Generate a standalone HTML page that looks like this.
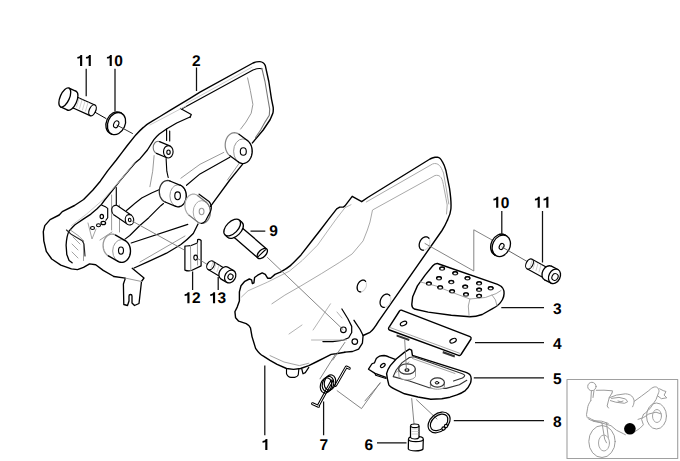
<!DOCTYPE html>
<html><head><meta charset="utf-8">
<style>
html,body{margin:0;padding:0;background:#fff;width:680px;height:461px;overflow:hidden}
svg{display:block}
.lb{text-rendering:geometricPrecision;font-family:"Liberation Sans",sans-serif;font-weight:bold;font-size:15.5px;fill:#000}
</style></head><body>
<svg width="680" height="461" viewBox="0 0 680 461">
<g fill="none" stroke-linejoin="round" stroke-linecap="round">
<path stroke="#000" stroke-width="1.41" d="M113.9 276.5 L103.2 270.4 L95.7 264.8 L89.6 263.9 L83.5 267.4 L77.5 269.6 L71.4 268.9 L60.8 265.1 L51.7 259 L46.3 251.4 L43.8 240.8 L43.3 231.7 L44.8 225.6 L50.1 219.6 L59.2 215 L62.3 211.6 L74.5 205.5 L83.6 199.5 L92.7 190.3 L100.3 181.2 L107.8 170.6 L116.3 160 L121.7 152.8 L127.1 145.8 L135.8 134.9 C138.5 132 141 129.5 143.4 127.4 C146 125 148.5 123.3 151 121.9 L160 116.5 L170 110.4 L180 104.4 L190 98.4 L200 92.1 L253 63 C255.5 61.8 258 61.5 260 61.6 C262.5 61.8 264.3 63.5 265.3 65.6 L268.8 81.5 L271.5 99.1 L273.2 107.4 C273.4 110 273.2 112 272.8 113.4 L270.2 119.5 L263.2 130 L252.4 142.9"/>
<path stroke="#000" stroke-width="1.14" d="M181.5 109 L253 70.1 C256 68.7 259 68 261.8 68.8"/>
<path stroke="#777" stroke-width="1.1" d="M261.8 68.2 L265 81.5 L268 99.5 L269.7 109.1 L269.3 115.2 L265 122.1 L260.6 130 L255.5 137.5"/>
<path stroke="#000" stroke-width="1.23" d="M180.5 108.5 L191.3 114.5 L190 117.5"/>
<path stroke="#000" stroke-width="1.32" d="M190 117 L176.7 123 L166.9 128.8 L159.3 134 C157 136 155.3 137.8 153.9 139.6 L147.4 150 L140.1 158.7 L135 163 L126 173.7 L119.7 181.2 L112.7 190 L104.7 200 L101.5 204.4 L97.1 208.8 L90.9 214.1 L82.9 219.4 L75 224.7 C72.5 227 70.5 229.5 69.1 231 C67.5 234 66.5 238 66.1 245.3 L66.8 254.5 L69.1 260.5 L72.1 262.8"/>
<path stroke="#9a9a9a" stroke-width="1.0" d="M247.6 77.9 L250.3 90.3 L252.9 104.4 L251.2 113.2 L245.9 122.1 L240.6 129.1"/>
<path stroke="#c4c4c4" stroke-width="0.9" d="M134.7 162.6 L118 183 L103.8 199 L100.6 201.8 L86.5 214.1 L71.5 225.6 M150 125 L186 106 M186 103.6 L252 67.2"/>
<path stroke="#000" stroke-width="1.32" d="M245.3 160.8 L229.8 180 L210.5 206.4 M198 224 L193.3 233.5 C189 238 185 241.5 180.6 244.7 L166.5 253.2 L148.2 261.7 L134.1 268"/>
<path stroke="#9a9a9a" stroke-width="1.0" d="M239.3 163.1 L227.4 180"/>
<path stroke="#000" stroke-width="1.14" d="M229.8 157.2 L200 173.9 L186.5 185.3 M166.6 129 V140.5 M169.7 131 V141 M116.3 187.6 V205.8 M166.1 158.5 L166.8 171.2 L168.2 177.5 M126.5 210.5 C131 207 136 202 141.7 198 L152.1 192.8 L159 189.8 M163.5 203.5 L160.8 205.7 L148.8 217.7 L139.3 226 L129.8 235.5 L125 239.1 M131.2 243 L187.8 224.4"/>
<path stroke="#9a9a9a" stroke-width="1.0" d="M223.8 152.4 L200 164.3 L180.9 178.2 M154.1 155.6 L152.7 171.2 L149.9 186.7 M111.6 195 V230 M119.5 205 V232 M83.5 240.8 V260.5 M70.6 230.2 L79 236.2 L83.5 240.8 M140 262 L185 236 M100 240 L112 232"/>
<path stroke="#000" stroke-width="1.32" d="M113.9 276.5 L125.4 278.1 L123.4 284 L123.8 304.5 L127.5 305.5 L129 301 L129 296 C129 294 132 294 132 296 L132 303 L134.5 305.5 L139 303.5 L141.5 281.5 L144 278 L132.2 268.3"/>
<path stroke="#9a9a9a" stroke-width="1.0" d="M125.4 278.1 L141.5 281.5"/>
<ellipse cx="234.5" cy="145" rx="9.3" ry="12.3" transform="rotate(0 234.5 145)" fill="#fff" stroke="none"/>
<path d="M238.4 161.9 L230 155.7 L239 134.3 L247.4 140.5 Z" fill="#fff" stroke="none"/>
<ellipse cx="242.9" cy="151.2" rx="9.3" ry="12.3" transform="rotate(0 242.9 151.2)" fill="#fff" stroke="#999" stroke-width="1.0"/>
<path d="M229.97 155.74 L228.95 154.87 L228.02 153.82 L227.21 152.63 L226.51 151.30 L225.96 149.87 L225.55 148.36 L225.30 146.78 L225.20 145.18 L225.26 143.57 L225.48 141.99 L225.86 140.46 L226.38 139.01 L227.04 137.66 L227.83 136.43 L228.73 135.35 L229.73 134.44 L230.82 133.71 L231.96 133.17 L233.15 132.83 L234.36 132.70 L235.58 132.78 L236.78 133.07 L237.93 133.57 L239.03 134.26" fill="none" stroke="#888" stroke-width="1.23"/>
<path d="M238.4 161.9 L230 155.7 M239 134.3 L247.4 140.5" fill="none" stroke="#000" stroke-width="1.23"/>
<path d="M247.43 140.46 L248.45 141.33 L249.38 142.38 L250.19 143.57 L250.89 144.90 L251.44 146.33 L251.85 147.84 L252.10 149.42 L252.20 151.02 L252.14 152.63 L251.92 154.21 L251.54 155.74 L251.02 157.19 L250.36 158.54 L249.57 159.77 L248.67 160.85 L247.67 161.76 L246.58 162.49 L245.44 163.03 L244.25 163.37 L243.04 163.50 L241.82 163.42 L240.62 163.13 L239.47 162.63 L238.37 161.94" fill="none" stroke="#000" stroke-width="1.23"/>
<ellipse cx="243.3" cy="151.5" rx="3" ry="3.8" transform="rotate(0 243.3 151.5)" fill="none" stroke="#000" stroke-width="1.14"/>
<ellipse cx="158" cy="147.5" rx="4.8" ry="6.2" transform="rotate(0 158 147.5)" fill="#fff" stroke="#777" stroke-width="1.14"/>
<path d="M166.8 157.7 L156.5 153.4 L159.5 141.6 L169.8 145.9 Z" fill="#fff" stroke="none"/>
<path d="M166.8 157.7 L156.5 153.4 M159.5 141.6 L169.8 145.9" fill="none" stroke="#000" stroke-width="1.14"/>
<ellipse cx="168.3" cy="151.8" rx="4.8" ry="6.2" transform="rotate(0 168.3 151.8)" fill="#fff" stroke="#000" stroke-width="1.14"/>
<ellipse cx="168.5" cy="152.2" rx="1.7" ry="2.2" transform="rotate(0 168.5 152.2)" fill="none" stroke="#000" stroke-width="1.1"/>
<ellipse cx="167.5" cy="191.5" rx="8.2" ry="11" transform="rotate(0 167.5 191.5)" fill="#fff" stroke="none"/>
<path d="M175.7 206.3 L165.1 202 L169.9 181 L180.5 185.3 Z" fill="#fff" stroke="none"/>
<ellipse cx="178.1" cy="195.8" rx="8.2" ry="11" transform="rotate(0 178.1 195.8)" fill="#fff" stroke="#999" stroke-width="1.0"/>
<path d="M165.13 202.03 L164.12 201.52 L163.18 200.85 L162.30 200.01 L161.52 199.03 L160.84 197.91 L160.27 196.69 L159.83 195.38 L159.52 194.01 L159.34 192.59 L159.30 191.15 L159.41 189.72 L159.65 188.32 L160.03 186.97 L160.53 185.70 L161.16 184.53 L161.89 183.48 L162.72 182.56 L163.63 181.80 L164.60 181.21 L165.63 180.79 L166.69 180.55 L167.76 180.51 L168.83 180.65 L169.87 180.97" fill="none" stroke="#333" stroke-width="1.32"/>
<path d="M175.7 206.3 L165.1 202 M169.9 181 L180.5 185.3" fill="none" stroke="#000" stroke-width="1.32"/>
<path d="M180.47 185.27 L181.48 185.78 L182.42 186.45 L183.30 187.29 L184.08 188.27 L184.76 189.39 L185.33 190.61 L185.77 191.92 L186.08 193.29 L186.26 194.71 L186.30 196.15 L186.19 197.58 L185.95 198.98 L185.57 200.33 L185.07 201.60 L184.44 202.77 L183.71 203.82 L182.88 204.74 L181.97 205.50 L181.00 206.09 L179.97 206.51 L178.91 206.75 L177.84 206.79 L176.77 206.65 L175.73 206.33" fill="none" stroke="#000" stroke-width="1.32"/>
<ellipse cx="177.6" cy="195.8" rx="2.8" ry="3.9" transform="rotate(0 177.6 195.8)" fill="none" stroke="#000" stroke-width="1.14"/>
<ellipse cx="193.5" cy="205.5" rx="8.6" ry="11.4" transform="rotate(0 193.5 205.5)" fill="#fff" stroke="none"/>
<path d="M197.4 221.8 L189.1 215.3 L197.9 195.7 L206.2 202.2 Z" fill="#fff" stroke="none"/>
<ellipse cx="201.8" cy="212" rx="8.6" ry="11.4" transform="rotate(0 201.8 212)" fill="#fff" stroke="#aaa" stroke-width="1.0"/>
<path d="M189.13 215.32 L188.20 214.47 L187.36 213.48 L186.63 212.35 L186.01 211.10 L185.52 209.76 L185.17 208.34 L184.96 206.87 L184.90 205.39 L184.99 203.90 L185.22 202.44 L185.59 201.03 L186.10 199.70 L186.73 198.47 L187.48 197.36 L188.33 196.39 L189.27 195.57 L190.29 194.92 L191.36 194.46 L192.46 194.18 L193.59 194.10 L194.71 194.21 L195.81 194.52 L196.87 195.01 L197.87 195.68" fill="none" stroke="#aaa" stroke-width="1.2"/>
<path d="M197.4 221.8 L189.1 215.3 M197.9 195.7 L206.2 202.2" fill="none" stroke="#777" stroke-width="1.2"/>
<path d="M206.17 202.18 L207.10 203.03 L207.94 204.02 L208.67 205.15 L209.29 206.40 L209.78 207.74 L210.13 209.16 L210.34 210.63 L210.40 212.11 L210.31 213.60 L210.08 215.06 L209.71 216.47 L209.20 217.80 L208.57 219.03 L207.82 220.14 L206.97 221.11 L206.03 221.93 L205.01 222.58 L203.94 223.04 L202.84 223.32 L201.71 223.40 L200.59 223.29 L199.49 222.98 L198.43 222.49 L197.43 221.82" fill="none" stroke="#777" stroke-width="1.2"/>
<ellipse cx="201.6" cy="211.5" rx="2.4" ry="3.2" transform="rotate(0 201.6 211.5)" fill="none" stroke="#9a9a9a" stroke-width="1.1"/>
<path stroke="#000" stroke-width="1.23" d="M199.1 194.2 L209 201.5 C210.5 203 211 204.5 211.3 206.5 C211.5 208.5 211.2 210 210.5 211.5 L205.6 220.8 C204 222.5 202.5 223.3 201.3 223.5"/>
<ellipse cx="116" cy="210.5" rx="4.2" ry="5.2" transform="rotate(-10 116 210.5)" fill="#fff" stroke="#000" stroke-width="1.14"/>
<path d="M127.6 224.3 L114.1 215 L117.9 206 L131.4 215.3 Z" fill="#fff" stroke="none"/>
<path d="M127.6 224.3 L114.1 215 M117.9 206 L131.4 215.3" fill="none" stroke="#000" stroke-width="1.14"/>
<ellipse cx="129.5" cy="219.8" rx="4.2" ry="5.2" transform="rotate(-10 129.5 219.8)" fill="#fff" stroke="#000" stroke-width="1.14"/>
<ellipse cx="129.7" cy="220" rx="1.3" ry="1.7" transform="rotate(-10 129.7 220)" fill="none" stroke="#000" stroke-width="1.1"/>
<path fill="#fff" stroke="#000" stroke-width="1.14" d="M101.5 204.9 L105.9 207.1 L107.7 208.4 L107.7 217.7 L105.9 220.3"/>
<ellipse cx="101.8" cy="216.5" rx="1.7" ry="2.2" fill="#fff" stroke="#000" stroke-width="1.2"/>
<ellipse cx="103.3" cy="223" rx="2.3" ry="1.7" fill="#fff" stroke="#000" stroke-width="1.2"/>
<ellipse cx="98.5" cy="225.2" rx="2" ry="1.5" fill="#fff" stroke="#000" stroke-width="1.1"/>
<ellipse cx="92.5" cy="228" rx="2" ry="1.5" fill="#fff" stroke="#000" stroke-width="1.1"/>
<path stroke="#222" stroke-width="1.14" d="M66.5 230 L71.6 234.6 L82.2 240.7 L84 244 L85 256"/>
<path stroke="#9a9a9a" stroke-width="0.9" d="M88 223 L92 239 L96 229 M72 244 L78 250 M72 252 L78 258 M73 237 L80 244"/>
<ellipse cx="112" cy="245.5" rx="8.9" ry="11.4" transform="rotate(0 112 245.5)" fill="#fff" stroke="none"/>
<path d="M118 261.4 L108.4 255.9 L115.6 235.1 L125.2 240.6 Z" fill="#fff" stroke="none"/>
<ellipse cx="121.6" cy="251" rx="8.9" ry="11.4" transform="rotate(0 121.6 251)" fill="#fff" stroke="#999" stroke-width="1.0"/>
<path d="M108.37 255.91 L107.34 255.21 L106.39 254.35 L105.53 253.33 L104.79 252.18 L104.17 250.92 L103.69 249.57 L103.34 248.14 L103.15 246.67 L103.10 245.18 L103.21 243.70 L103.47 242.24 L103.88 240.85 L104.42 239.53 L105.09 238.31 L105.88 237.22 L106.78 236.27 L107.77 235.47 L108.82 234.85 L109.94 234.41 L111.08 234.16 L112.25 234.10 L113.41 234.24 L114.54 234.58 L115.63 235.09" fill="none" stroke="#999" stroke-width="1.32"/>
<path d="M118 261.4 L108.4 255.9 M115.6 235.1 L125.2 240.6" fill="none" stroke="#000" stroke-width="1.32"/>
<path d="M125.23 240.59 L126.26 241.29 L127.21 242.15 L128.07 243.17 L128.81 244.32 L129.43 245.58 L129.91 246.93 L130.26 248.36 L130.45 249.83 L130.50 251.32 L130.39 252.80 L130.13 254.26 L129.72 255.65 L129.18 256.97 L128.51 258.19 L127.72 259.28 L126.82 260.23 L125.83 261.03 L124.78 261.65 L123.66 262.09 L122.52 262.34 L121.35 262.40 L120.19 262.26 L119.06 261.92 L117.97 261.41" fill="none" stroke="#000" stroke-width="1.32"/>
<ellipse cx="121" cy="250.6" rx="2.5" ry="3.6" transform="rotate(0 121 250.6)" fill="none" stroke="#000" stroke-width="1.14"/>
</g>
<g fill="none" stroke-linejoin="round" stroke-linecap="round">
<path stroke="#000" stroke-width="1.0" d="M92 110.5 L106 118.5"/>
<ellipse cx="75" cy="102.5" rx="3.2" ry="5.8" transform="rotate(24 75 102.5)" fill="#fff" stroke="#000" stroke-width="1.23"/>
<path d="M90.1 115.6 L72.6 107.8 L77.4 97.2 L94.9 105 Z" fill="#fff" stroke="none"/>
<path d="M90.1 115.6 L72.6 107.8 M77.4 97.2 L94.9 105" fill="none" stroke="#000" stroke-width="1.23"/>
<ellipse cx="92.5" cy="110.3" rx="3.2" ry="5.8" transform="rotate(24 92.5 110.3)" fill="#fff" stroke="#000" stroke-width="1.23"/>
<path stroke="#c4c4c4" stroke-width="0.8" d="M79 98.5 l-2.5 8.5 M82 100 l-2.5 8.5 M85 101.3 l-2.5 8.5 M88 102.6 l-2.5 8.5"/>
<ellipse cx="72" cy="100.8" rx="4.6" ry="10.3" transform="rotate(24 72 100.8)" fill="#fff" stroke="#000" stroke-width="1.32"/>
<path d="M69 88.1 L76.2 91.4 L67.8 110.2 L60.6 106.9 Z" fill="#fff" stroke="none"/>
<path d="M69 88.1 L76.2 91.4 M67.8 110.2 L60.6 106.9" fill="none" stroke="#000" stroke-width="1.32"/>
<ellipse cx="64.8" cy="97.5" rx="4.6" ry="10.3" transform="rotate(24 64.8 97.5)" fill="#fff" stroke="#000" stroke-width="1.32"/>
<ellipse cx="115" cy="122.9" rx="8.6" ry="11.5" transform="rotate(24 115 122.9)" fill="#fff" stroke="#000" stroke-width="1.32"/>
<path d="M111.7 134.1 L110.2 133.4 L119.8 112.4 L121.3 113.1 Z" fill="#fff" stroke="none"/>
<path d="M111.7 134.1 L110.2 133.4 M119.8 112.4 L121.3 113.1" fill="none" stroke="#000" stroke-width="1.32"/>
<ellipse cx="116.5" cy="123.6" rx="8.6" ry="11.5" transform="rotate(24 116.5 123.6)" fill="#fff" stroke="#000" stroke-width="1.32"/>
<ellipse cx="116.2" cy="124.3" rx="2.4" ry="3.6" transform="rotate(24 116.2 124.3)" fill="none" stroke="#000" stroke-width="1.1"/>
<path stroke="#333" stroke-width="1.0" d="M117 125.2 L132.5 133.5"/>
</g>
<g fill="none" stroke-linejoin="round" stroke-linecap="round">
<path stroke="#000" stroke-width="1.41" d="M447.5 220 C446 223.5 444 227.5 442 230.5 L378.5 321.3 C376 325.5 373.5 329.5 370 332.3 L363.1 335.5"/>
<path stroke="#000" stroke-width="1.41" d="M447.5 220 C449.5 216 450.6 213 450.9 209 C451.3 204 450.8 197 449.5 188.2 L446 170.8 C444.8 166.5 443.8 164 442.6 162.2 C441.5 160 440 157.5 437.5 157.1 L435 157.3 C433 157.8 431.5 158.3 430 159 L367.7 197.5 L361.7 201.7 L352.2 196.3 L345 205.9 L343.3 207.1 L339.7 207.1 L336.7 208.9 L328.3 219.6 L320.4 230 L311.6 241.3 L301 254.9 C297 259 294 262.5 290.4 265.6 C287 268.5 283 270.5 279.7 272.4 L275 274.4 L270.6 278.2 L267.6 278.2 L265.3 274.4 L262.2 272.9 L257.7 275.2 L254.6 277.5 L253.9 282.8 L252.4 283.6 L251.6 279.8 L249.3 279 L244.8 281.3 L241 285.8 L239.4 291.9 L239.4 301 L237.2 307.1 L234.9 311.7 L235.6 317.8 L238.7 321.2 L246.2 323.7 C248.5 325 250 326 250.5 328 L252 336.6 L255.6 348.4 C258 352 260 354.5 263.4 356.2 L270 360.3 L277.1 364.4 L286.5 368.5 L293.5 369.4 L300.6 368.5 L308.8 365.6 L317.1 361.5 L325.3 357.4 L331.2 354.4 L335.9 353.8 L344.9 352.2"/>
<path stroke="#000" stroke-width="1.32" d="M354 320.3 L360.1 329.5 L363.1 335.5 L362.4 343.1 L358.6 349.2 L352.5 351.5 L344.9 352.2"/>
<path stroke="#000" stroke-width="1.23" d="M341.9 309 L347.9 318.8 L351.7 326.4 L351.7 332.5 L348.7 337.8 L343.4 340.1 L332.8 341.6 L322.9 341.6"/>
<path stroke="#9a9a9a" stroke-width="0.9" d="M270 355.6 L284 362 L299.4 365.6 L308.8 363.2"/>
<circle cx="343.4" cy="329.8" r="2.8" stroke="#000" stroke-width="1.2"/><circle cx="354.8" cy="341.6" r="2.8" stroke="#000" stroke-width="1.2"/>
<path stroke="#aaa" stroke-width="1.0" d="M366.3 202 L432.5 164 C435 163 437.5 163.5 439.5 165.5 C441 167 442 169.5 443.5 173 L446.5 190 L448.8 204"/>
<path stroke="#aaa" stroke-width="1.0" d="M446.5 214 L447.2 205 L446 198.6 L443.4 184.7 C442.5 180 441.5 177.5 440 176.5 C439 175.5 437.5 175 435 175.5 L372.5 210 L370 222 L367.4 230 L363.1 240.9 L352.2 253.9 L339.2 262.6 L321.8 273.4 L300.1 286.4 L284.9 295.1 L271.9 303.8"/>
<path stroke="#b4b4b4" stroke-width="1.0" d="M351 204.7 L345 207.7 L336.7 218.4 L328.3 230 L317.5 245.2 L302.3 260.4 L289.3 271.2 L267.6 282.1 L248 290.8 L241.5 297 M311.5 340 L346.4 340 M330.5 303.8 L313.1 330 M337 312 L342 318 M289 334 L302 325"/>
<ellipse cx="424.6" cy="243.5" rx="5" ry="7" transform="rotate(25 424.6 243.5)" stroke="#d2d2d2" stroke-width="1.0"/>
<path d="M423.37 250.18 L422.55 250.13 L421.77 249.90 L421.08 249.51 L420.47 248.97 L419.96 248.29 L419.58 247.48 L419.32 246.58 L419.20 245.59 L419.21 244.56 L419.37 243.49 L419.66 242.42 L420.07 241.39 L420.60 240.40 L421.23 239.50 L421.95 238.70 L422.73 238.02 L423.56 237.48 L424.42 237.09 L425.29 236.87 L426.13 236.82 L426.94 236.93 L427.69 237.22 L428.36 237.67 L428.93 238.26" stroke="#000" stroke-width="1.23"/>
<ellipse cx="361.8" cy="286" rx="4.3" ry="6.2" transform="rotate(25 361.8 286)" stroke="#d2d2d2" stroke-width="1.0"/>
<path d="M360.67 291.90 L359.96 291.86 L359.29 291.67 L358.69 291.33 L358.17 290.86 L357.74 290.27 L357.42 289.56 L357.21 288.76 L357.11 287.90 L357.13 286.98 L357.28 286.04 L357.54 285.10 L357.90 284.18 L358.37 283.31 L358.92 282.51 L359.55 281.79 L360.24 281.19 L360.96 280.70 L361.71 280.35 L362.46 280.15 L363.19 280.10 L363.89 280.19 L364.53 280.44 L365.11 280.82 L365.60 281.34" stroke="#000" stroke-width="1.23"/>
<ellipse cx="385.5" cy="300.8" rx="5" ry="7" transform="rotate(25 385.5 300.8)" stroke="#d2d2d2" stroke-width="1.0"/>
<path d="M384.27 307.48 L383.45 307.43 L382.67 307.20 L381.98 306.81 L381.37 306.27 L380.86 305.59 L380.48 304.78 L380.22 303.88 L380.10 302.89 L380.11 301.86 L380.27 300.79 L380.56 299.72 L380.97 298.69 L381.50 297.70 L382.13 296.80 L382.85 296.00 L383.63 295.32 L384.46 294.78 L385.32 294.39 L386.19 294.17 L387.03 294.12 L387.84 294.23 L388.59 294.52 L389.26 294.97 L389.83 295.56" stroke="#000" stroke-width="1.23"/>
<path stroke="#000" stroke-width="1.14" d="M286.5 369 L286.5 373.8 C287.5 376 289 377.4 291 377.4 L294.7 377.4 C296.5 377 298 376 298.3 374.5 L298.8 369.2"/>
<path stroke="#000" stroke-width="1.2" d="M301.8 369 L303 373.8 L305.3 372.6 L308.8 367.4"/>
<path stroke="#777" stroke-width="0.9" d="M267.5 257.5 L343 329.5 M335 355 L320 378.8 M337.1 390.7 L361.5 408.6 L380.1 382.8 M344.9 342.4 L332.8 360"/>
<path stroke="#777" stroke-width="0.9" d="M425 243.5 L473.8 271 L473.8 229.8 L493 240.5"/>
</g>
<g fill="none" stroke-linejoin="round" stroke-linecap="round">
<path fill="#fff" stroke="#000" stroke-width="1.41" d="M437.4 263.5 L497.6 284.3 C500 285.3 502 286.5 503 288.5 C504.5 291 504.5 296 502.5 299.5 C500 304 496 307 493 308.3 L482.2 314.5 C478 316 474 316.8 469.9 316.8 L451.3 315.2 L428.2 312.1 L414.3 309 C412.5 308 411.8 306 411.8 304.4 L412.7 296.7 L417.4 285.9 L425.1 275.1 L432.8 265.8 C434 264.3 435.5 263.4 437.4 263.5 Z"/>
<path stroke="#9a9a9a" stroke-width="0.9" d="M420.4 282 L435.9 285.9 L451.3 292.1 L469.9 299 L485.3 297.5 L496.1 293.6 L501 290.5 M469.9 299 L468.3 306 L469.1 316 M492 295 L495.5 300 L497 306"/>
<ellipse cx="442.1" cy="268.6" rx="2.4" ry="1.7" fill="#fff" stroke="#333" stroke-width="1.1"/>
<path d="M439.7 268.8 C439.9 266.6 444.3 266.6 444.5 268.8" stroke="#000" stroke-width="1.32"/>
<ellipse cx="455.2" cy="273.2" rx="2.4" ry="1.7" fill="#fff" stroke="#333" stroke-width="1.1"/>
<path d="M452.8 273.4 C453 271.2 457.4 271.2 457.6 273.4" stroke="#000" stroke-width="1.32"/>
<ellipse cx="439" cy="278.2" rx="2.4" ry="1.7" fill="#fff" stroke="#333" stroke-width="1.1"/>
<path d="M436.6 278.4 C436.8 276.2 441.2 276.2 441.4 278.4" stroke="#000" stroke-width="1.32"/>
<ellipse cx="467.5" cy="278.2" rx="2.4" ry="1.7" fill="#fff" stroke="#333" stroke-width="1.1"/>
<path d="M465.1 278.4 C465.3 276.2 469.7 276.2 469.9 278.4" stroke="#000" stroke-width="1.32"/>
<ellipse cx="451.3" cy="282" rx="2.4" ry="1.7" fill="#fff" stroke="#333" stroke-width="1.1"/>
<path d="M448.9 282.2 C449.1 280 453.5 280 453.7 282.2" stroke="#000" stroke-width="1.32"/>
<ellipse cx="428.9" cy="283.6" rx="2.4" ry="1.7" fill="#fff" stroke="#333" stroke-width="1.1"/>
<path d="M426.5 283.8 C426.7 281.6 431.1 281.6 431.3 283.8" stroke="#000" stroke-width="1.32"/>
<ellipse cx="479.1" cy="283.3" rx="2.4" ry="1.7" fill="#fff" stroke="#333" stroke-width="1.1"/>
<path d="M476.7 283.5 C476.9 281.3 481.3 281.3 481.5 283.5" stroke="#000" stroke-width="1.32"/>
<ellipse cx="465.2" cy="286.7" rx="2.4" ry="1.7" fill="#fff" stroke="#333" stroke-width="1.1"/>
<path d="M462.8 286.9 C463 284.7 467.4 284.7 467.6 286.9" stroke="#000" stroke-width="1.32"/>
<ellipse cx="440.2" cy="287.4" rx="2.4" ry="1.7" fill="#fff" stroke="#333" stroke-width="1.1"/>
<path d="M437.8 287.6 C438 285.4 442.4 285.4 442.6 287.6" stroke="#000" stroke-width="1.32"/>
<ellipse cx="490.7" cy="288.2" rx="2.4" ry="1.7" fill="#fff" stroke="#333" stroke-width="1.1"/>
<path d="M488.3 288.4 C488.5 286.2 492.9 286.2 493.1 288.4" stroke="#000" stroke-width="1.32"/>
<ellipse cx="479.1" cy="289.7" rx="2.4" ry="1.7" fill="#fff" stroke="#333" stroke-width="1.1"/>
<path d="M476.7 289.9 C476.9 287.7 481.3 287.7 481.5 289.9" stroke="#000" stroke-width="1.32"/>
<ellipse cx="452.1" cy="291.3" rx="2.4" ry="1.7" fill="#fff" stroke="#333" stroke-width="1.1"/>
<path d="M449.7 291.5 C449.9 289.3 454.3 289.3 454.5 291.5" stroke="#000" stroke-width="1.32"/>
<ellipse cx="466" cy="294.4" rx="2.4" ry="1.7" fill="#fff" stroke="#333" stroke-width="1.1"/>
<path d="M463.6 294.6 C463.8 292.4 468.2 292.4 468.4 294.6" stroke="#000" stroke-width="1.32"/>
<ellipse cx="479.1" cy="295.9" rx="2.4" ry="1.7" fill="#fff" stroke="#333" stroke-width="1.1"/>
<path d="M476.7 296.1 C476.9 293.9 481.3 293.9 481.5 296.1" stroke="#000" stroke-width="1.32"/>
</g>
<g fill="none" stroke-linejoin="round" stroke-linecap="round">
<path fill="#333" stroke="none" d="M396.7 334.5 L409.6 339 L409 341 L396.5 336.5 Z M443 351 L455.1 355.6 L454.5 357.5 L442.5 353.2 Z"/>
<path fill="#fff" stroke="#000" stroke-width="1.41" d="M399.5 311 C400 310.2 401 310 402 310.3 L470 336.6 C471 337 471.3 338 471 339 L461 354.5 C460.5 355.5 459.5 355.7 458.5 355.3 L389.5 330 C388.5 329.5 388.3 328.5 388.8 327.7 Z"/>
<path stroke="#9a9a9a" stroke-width="0.9" d="M390 327.5 L459.5 353.2"/>
<ellipse cx="403.5" cy="323.5" rx="3.4" ry="2" transform="rotate(-25 403.5 323.5)" stroke="#000" stroke-width="1.14"/>
<ellipse cx="453.1" cy="340.7" rx="3.4" ry="2" transform="rotate(-25 453.1 340.7)" stroke="#000" stroke-width="1.14"/>
</g>
<g fill="none" stroke-linejoin="round" stroke-linecap="round">
<path fill="#fff" stroke="#000" stroke-width="1.32" d="M395.2 359.4 L389.3 357.2 C387.5 356.3 386 355.7 384.1 355.5 C382 355.5 380.8 355.7 379.6 356.2 C378 357 376.8 358 376.3 358.5 L374.5 362.8 L372.5 363.5 L371.8 364 L368.5 369.2 L375 373.4 L386 377.3"/>
<path stroke="#000" stroke-width="1.2" d="M375 373.4 L375.7 375.2 L386 378.5"/>
<ellipse cx="382.8" cy="365.5" rx="2.7" ry="1.5" transform="rotate(-38 382.8 365.5)" stroke="#000" stroke-width="1.2"/>
<path fill="#fff" stroke="#000" stroke-width="1.41" d="M387.4 378.8 L386.6 373.7 C387.5 370 388.5 368 390.3 365.6 L396.2 359 L404.3 352.4 L409.4 349.1 L411.6 350.1 L412.4 355.3 L465.3 372.2 C467.5 373 469 374 469.7 374.4 C471 376 471.3 377.5 471.2 378.8 C471 382 470.5 383 470.4 383.2 C469 386.5 467.5 388.5 465.3 390.6 C462 393 459.5 394 457 394.8 L450 397.2 L441.8 398.8 L430.8 399.2 L418 397 L404.5 393.8 L394.7 389.1 C391.5 387.5 389.5 386.5 388.8 384.7 Z"/>
<path stroke="#333" stroke-width="1.1" d="M393.2 376.6 L396.2 370 L402.1 362.6 L409.4 357.5 L413.8 356.8 L462.4 373.7 C464 374.5 465 375.2 464.6 375.9 C464 377 463 377.6 462.4 378.1 L453.5 381 M393.2 376.6 L409.4 381 L428.5 387.6 L446.2 388.4 L459.4 384.7 L466.8 380.3"/>
<path stroke="#9a9a9a" stroke-width="0.9" d="M396 372.5 L409 362 M412.5 358.5 L455 373.5"/>
<path fill="#fff" stroke="#9a9a9a" stroke-width="1.0" d="M398.5 369 L399 376.5 C401.5 381 413 381 415.5 376.5 L415.5 369"/>
<ellipse cx="407" cy="369" rx="8.3" ry="5.2" fill="#fff" stroke="#333" stroke-width="1.2"/>
<ellipse cx="407" cy="370" rx="2" ry="1.3" stroke="#000" stroke-width="1.1"/>
<path fill="#fff" stroke="#9a9a9a" stroke-width="1.0" d="M430.4 382.5 L430.4 387 C432.5 390 442.5 390 444.4 387 L444.4 382.5"/>
<ellipse cx="437.4" cy="382.5" rx="7" ry="4.6" fill="#fff" stroke="#333" stroke-width="1.2"/>
<ellipse cx="437" cy="382.8" rx="1.8" ry="1.2" stroke="#000" stroke-width="1.0"/>
<path stroke="#777" stroke-width="0.9" d="M404.7 340 L406.4 369 M380.2 383.1 L365 400.9 M411.7 398.6 L414.1 424.8 M416.5 399.8 L437 419"/>
</g>
<g fill="none"><ellipse cx="439.1" cy="422.4" rx="12.3" ry="8.8" transform="rotate(-40 439.1 422.4)" stroke="#000" stroke-width="1.23"/><ellipse cx="439.1" cy="422.4" rx="10" ry="6.8" transform="rotate(-40 439.1 422.4)" stroke="#000" stroke-width="1.2"/><circle cx="443.5" cy="428.5" r="1.6" fill="#fff" stroke="#000" stroke-width="1.1"/><circle cx="446" cy="426" r="1.6" fill="#fff" stroke="#000" stroke-width="1.1"/></g>
<g fill="none" stroke-linejoin="round">
<path fill="#fff" stroke="#000" stroke-width="1.23" d="M408.5 439 L408.3 449 C410 451.5 421 451.5 423 449 L423.3 439"/>
<ellipse cx="415.9" cy="439" rx="7.4" ry="2.6" fill="#fff" stroke="#000" stroke-width="1.14"/>
<path fill="#fff" stroke="#000" stroke-width="1.23" d="M410.5 426 L410.5 437.5 C412 439.5 418 439.5 419 437.5 L419 426"/>
<ellipse cx="414.8" cy="425.8" rx="4.2" ry="1.8" fill="#fff" stroke="#000" stroke-width="1.14"/>
<path stroke="#c4c4c4" stroke-width="0.8" d="M411.5 429 h7 M411.5 431.5 h7 M411.5 434 h7"/>
</g>
<g fill="none" stroke-linecap="round" stroke-linejoin="round">
<path stroke="#000" stroke-width="2.9" d="M318.5 405.3 L331.8 381 M335.7 385.4 L346.3 366.9 L349.3 368.3 M312.5 403.7 L318.5 406.3"/><path stroke="#fff" stroke-width="1.0" d="M318.5 405.3 L331.8 381 M335.7 385.4 L346.3 366.9 L349.3 368.3 M312.5 403.7 L318.5 406.3"/>
<ellipse cx="326" cy="385.5" rx="5.6" ry="7.8" transform="rotate(15 326 385.5)" stroke="#000" stroke-width="1.19"/>
<ellipse cx="328" cy="384" rx="5.6" ry="7.8" transform="rotate(15 328 384)" stroke="#000" stroke-width="1.19"/>
<ellipse cx="330" cy="382.5" rx="5.6" ry="7.8" transform="rotate(15 330 382.5)" stroke="#000" stroke-width="1.19"/>
</g>
<g fill="none" stroke-linejoin="round">
<ellipse cx="238" cy="232.5" rx="3.6" ry="6.3" transform="rotate(45 238 232.5)" fill="#fff" stroke="#000" stroke-width="1.32"/>
<path d="M258 258.1 L233.7 237.1 L242.3 227.9 L266.6 248.9 Z" fill="#fff" stroke="none"/>
<path d="M258 258.1 L233.7 237.1 M242.3 227.9 L266.6 248.9" fill="none" stroke="#000" stroke-width="1.32"/>
<ellipse cx="262.3" cy="253.5" rx="3.6" ry="6.3" transform="rotate(45 262.3 253.5)" fill="#fff" stroke="#000" stroke-width="1.32"/>
<path stroke="#000" stroke-width="1.1" d="M257.6 257.2 C260 255 263 251.5 265.8 249.5"/>
<ellipse cx="235" cy="230" rx="5.8" ry="10.3" transform="rotate(45 235 230)" fill="#fff" stroke="#000" stroke-width="1.32"/>
<path d="M239.3 220.1 L242.1 222.6 L227.9 237.4 L225.1 234.9 Z" fill="#fff" stroke="none"/>
<path d="M239.3 220.1 L242.1 222.6 M227.9 237.4 L225.1 234.9" fill="none" stroke="#000" stroke-width="1.32"/>
<ellipse cx="232.2" cy="227.5" rx="5.8" ry="10.3" transform="rotate(45 232.2 227.5)" fill="#fff" stroke="#000" stroke-width="1.32"/>
</g>
<g fill="none" stroke-linejoin="round" stroke-linecap="round">
<path fill="#fff" stroke="#000" stroke-width="1.23" d="M184.9 246.2 L184.9 270.1 C187 271 189 271.3 191.5 270.5 L201.1 265.9 L201.1 240.5 C200 239.3 198.8 239 197.7 239.5 L197.4 243 L190.5 245.7 L186.5 246 Z"/>
<path stroke="#9a9a9a" stroke-width="1.0" d="M190.5 245.7 L190.8 270.3 M197.4 243 L197.6 265"/>
<ellipse cx="195.6" cy="257.6" rx="1.8" ry="2.5" stroke="#000" stroke-width="1.1"/>
<path stroke="#777" stroke-width="0.9" d="M131.2 220.5 L183.9 249.8 M197.8 258.6 L209 265.6"/>
<ellipse cx="224" cy="273.5" rx="3.4" ry="4.8" transform="rotate(30 224 273.5)" fill="#fff" stroke="#000" stroke-width="1.14"/>
<path d="M212.9 261.2 L226.4 269.4 L221.6 277.6 L208.1 269.4 Z" fill="#fff" stroke="none"/>
<path d="M212.9 261.2 L226.4 269.4 M221.6 277.6 L208.1 269.4" fill="none" stroke="#000" stroke-width="1.14"/>
<ellipse cx="210.5" cy="265.3" rx="3.4" ry="4.8" transform="rotate(30 210.5 265.3)" fill="#fff" stroke="#000" stroke-width="1.14"/>
<path stroke="#c4c4c4" stroke-width="0.8" d="M213 262 l-2 6 M216 263.8 l-2 6 M219 265.6 l-2 6"/>
<ellipse cx="224.5" cy="273.2" rx="5.2" ry="6.8" transform="rotate(30 224.5 273.2)" fill="#fff" stroke="#000" stroke-width="1.23"/>
<path d="M226.8 282.4 L221.1 279.1 L227.9 267.3 L233.6 270.6 Z" fill="#fff" stroke="none"/>
<path d="M226.8 282.4 L221.1 279.1 M227.9 267.3 L233.6 270.6" fill="none" stroke="#000" stroke-width="1.23"/>
<ellipse cx="230.2" cy="276.5" rx="5.2" ry="6.8" transform="rotate(30 230.2 276.5)" fill="#fff" stroke="#000" stroke-width="1.23"/>
<ellipse cx="230.5" cy="276.8" rx="2.5" ry="2.8" transform="rotate(30 230.5 276.8)" fill="none" stroke="#000" stroke-width="1.1"/>
</g>
<g fill="none" stroke-linejoin="round" stroke-linecap="round">
<ellipse cx="499.8" cy="244.8" rx="8.6" ry="11.2" transform="rotate(26 499.8 244.8)" fill="#fff" stroke="#000" stroke-width="1.32"/>
<path d="M495.6 255.4 L494.1 254.4 L505.5 235.2 L507 236.2 Z" fill="#fff" stroke="none"/>
<path d="M495.6 255.4 L494.1 254.4 M505.5 235.2 L507 236.2" fill="none" stroke="#000" stroke-width="1.32"/>
<ellipse cx="501.3" cy="245.8" rx="8.6" ry="11.2" transform="rotate(26 501.3 245.8)" fill="#fff" stroke="#000" stroke-width="1.32"/>
<ellipse cx="501.6" cy="246.5" rx="2.2" ry="3.2" transform="rotate(26 501.6 246.5)" fill="none" stroke="#000" stroke-width="1.1"/>
<path stroke="#555" stroke-width="0.9" d="M502 247 L528 262"/>
<ellipse cx="545" cy="272.5" rx="3.4" ry="5.4" transform="rotate(27 545 272.5)" fill="#fff" stroke="#000" stroke-width="1.14"/>
<path d="M532 259.2 L547.5 267.7 L542.5 277.3 L527 268.8 Z" fill="#fff" stroke="none"/>
<path d="M532 259.2 L547.5 267.7 M542.5 277.3 L527 268.8" fill="none" stroke="#000" stroke-width="1.14"/>
<ellipse cx="529.5" cy="264" rx="3.4" ry="5.4" transform="rotate(27 529.5 264)" fill="#fff" stroke="#000" stroke-width="1.14"/>
<path stroke="#c4c4c4" stroke-width="0.8" d="M532 260.5 l-2 7 M535 262 l-2 7 M538 263.5 l-2 7 M541 265 l-2 7"/>
<ellipse cx="548" cy="273" rx="5.6" ry="7.6" transform="rotate(27 548 273)" fill="#fff" stroke="#000" stroke-width="1.32"/>
<path d="M551.1 283.1 L544.6 279.8 L551.4 266.2 L557.9 269.5 Z" fill="#fff" stroke="none"/>
<path d="M551.1 283.1 L544.6 279.8 M551.4 266.2 L557.9 269.5" fill="none" stroke="#000" stroke-width="1.32"/>
<ellipse cx="554.5" cy="276.3" rx="5.6" ry="7.6" transform="rotate(27 554.5 276.3)" fill="#fff" stroke="#000" stroke-width="1.32"/>
<ellipse cx="555" cy="277" rx="3" ry="3.5" transform="rotate(27 555 277)" fill="none" stroke="#000" stroke-width="1.1"/>
</g>
<g fill="none" stroke-linejoin="round" stroke-linecap="round">
<rect x="567" y="379.5" width="110.7" height="79" stroke="#a0a0a0" stroke-width="1.1"/>
<path stroke="#9c9c9c" stroke-width="1.0" d="M596.3 390.3 L604 390.2 L612.5 390.8 L612 393 M590.8 400.6 C588.5 404 587.8 406 587.6 408.2 L586.5 414.7 C586.8 417 587.5 418.3 588.7 419 C590 420 591.5 420.5 593 420.7 L601.7 421.2 L608.2 423.4 M612 393 L609.3 397.4 L607.1 406 L608.5 408 M609.2 397.8 L616.4 395.1 L625.4 393.8 C628 394 630.5 394.8 631.7 396 C633.5 398 634.2 400 634.1 401.4 C634 403.5 633.5 405 632.6 406.8 M611.5 398.4 L619 397.4 L625.6 399 L627.7 401.7 L624.5 403.3 L615.8 402.2 L610.4 400.6 M618 401 L621 401.8 L623 401 M634.1 401.4 L641.6 396 L648.8 390.6 C651 388.5 652.5 387.5 654.2 387 C656 386.7 657.3 387.2 657.8 387.9 C659 390 659.3 391 658.7 392.4 L656 399.6 L652.4 405 C650 409 647 412 643.4 414.5 M659.6 388.8 L663.2 390.6 L666 391.5 L664.1 395.1 L666.8 397.8 L661.4 398.7 L657.8 396 M638 419.4 L643.4 417.6 L648.8 414 L656 412.2 L661.4 414 M593 421.2 L602 423 L611 425.7 L616.4 430.2 L623.6 433.8 L625.4 434.7 M634.4 432 L639.8 428.4 L643.4 424.8 L641.6 419.4 L643.4 414.5 M602 423 L604.7 439.2 L606.5 442.8 M606.5 423 L608.3 437.4 M588.5 417.6 C592 420 598 422 602 423"/>
<ellipse cx="602" cy="441.5" rx="13.2" ry="16" stroke="#9c9c9c" stroke-width="1.0"/>
<ellipse cx="604" cy="443" rx="5.5" ry="8" stroke="#a6a6a6" stroke-width="1.0"/>
<ellipse cx="656.5" cy="416" rx="10" ry="13" stroke="#9c9c9c" stroke-width="1.0"/>
<ellipse cx="657" cy="416" rx="4.5" ry="6.5" stroke="#a6a6a6" stroke-width="1.0"/>
<circle cx="591.9" cy="386.5" r="4.2" stroke="#9c9c9c" stroke-width="1.0"/><path d="M591.4 390.8 L590.8 400.6 M594 390.6 L593 397.5" stroke="#9c9c9c" stroke-width="1.0"/>
<circle cx="629.9" cy="428.8" r="5.8" fill="#000"/>
</g>
<g id="labels" class="lb">
<g transform="translate(76.00 66.00) scale(1.0 1)"><path d="M6.20 0 L6.20 -11.05 L4.50 -11.05 C4.11 -9.92 2.94 -9.11 1.32 -9.04 L1.32 -7.41 C2.48 -7.41 3.41 -7.59 4.06 -7.98 L4.06 0 Z M14.82 0 L14.82 -11.05 L13.11 -11.05 C12.73 -9.92 11.56 -9.11 9.94 -9.04 L9.94 -7.41 C11.10 -7.41 12.03 -7.59 12.68 -7.98 L12.68 0 Z" fill="#000"/></g>
<g transform="translate(105.60 66.00) scale(1.0 1)"><text x="8.62" y="0">0</text><path d="M6.20 0 L6.20 -11.05 L4.50 -11.05 C4.11 -9.92 2.94 -9.11 1.32 -9.04 L1.32 -7.41 C2.48 -7.41 3.41 -7.59 4.06 -7.98 L4.06 0 Z" fill="#000"/></g>
<g transform="translate(191.90 66.00) scale(1.0 1)"><text x="0.00" y="0">2</text></g>
<g transform="translate(269.30 235.50) scale(1.0 1)"><text x="0.00" y="0">9</text></g>
<g transform="translate(183.30 303.30) scale(1.0 1)"><text x="8.62" y="0">2</text><path d="M6.20 0 L6.20 -11.05 L4.50 -11.05 C4.11 -9.92 2.94 -9.11 1.32 -9.04 L1.32 -7.41 C2.48 -7.41 3.41 -7.59 4.06 -7.98 L4.06 0 Z" fill="#000"/></g>
<g transform="translate(208.90 303.30) scale(1.0 1)"><text x="8.62" y="0">3</text><path d="M6.20 0 L6.20 -11.05 L4.50 -11.05 C4.11 -9.92 2.94 -9.11 1.32 -9.04 L1.32 -7.41 C2.48 -7.41 3.41 -7.59 4.06 -7.98 L4.06 0 Z" fill="#000"/></g>
<g transform="translate(492.10 207.80) scale(1.0 1)"><text x="8.62" y="0">0</text><path d="M6.20 0 L6.20 -11.05 L4.50 -11.05 C4.11 -9.92 2.94 -9.11 1.32 -9.04 L1.32 -7.41 C2.48 -7.41 3.41 -7.59 4.06 -7.98 L4.06 0 Z" fill="#000"/></g>
<g transform="translate(533.60 207.80) scale(1.0 1)"><path d="M6.20 0 L6.20 -11.05 L4.50 -11.05 C4.11 -9.92 2.94 -9.11 1.32 -9.04 L1.32 -7.41 C2.48 -7.41 3.41 -7.59 4.06 -7.98 L4.06 0 Z M14.82 0 L14.82 -11.05 L13.11 -11.05 C12.73 -9.92 11.56 -9.11 9.94 -9.04 L9.94 -7.41 C11.10 -7.41 12.03 -7.59 12.68 -7.98 L12.68 0 Z" fill="#000"/></g>
<g transform="translate(553.00 313.70) scale(1.0 1)"><text x="0.00" y="0">3</text></g>
<g transform="translate(553.00 349.30) scale(1.0 1)"><text x="0.00" y="0">4</text></g>
<g transform="translate(553.00 384.30) scale(1.0 1)"><text x="0.00" y="0">5</text></g>
<g transform="translate(553.00 426.90) scale(1.0 1)"><text x="0.00" y="0">8</text></g>
<g transform="translate(261.20 450.10) scale(1.0 1)"><path d="M6.20 0 L6.20 -11.05 L4.50 -11.05 C4.11 -9.92 2.94 -9.11 1.32 -9.04 L1.32 -7.41 C2.48 -7.41 3.41 -7.59 4.06 -7.98 L4.06 0 Z" fill="#000"/></g>
<g transform="translate(319.50 450.10) scale(1.0 1)"><text x="0.00" y="0">7</text></g>
<g transform="translate(364.60 450.10) scale(1.0 1)"><text x="0.00" y="0">6</text></g>
</g>
<g id="leaders" stroke="#111" stroke-width="1.25" fill="none">
<path d="M86.2 68.7V96.2M115 68.7V111.2M196.5 67.6V91M250.5 231H265.3M192.6 271.6V289.9M218.2 276.9V289.9M501.8 211V233.8M542.5 211V262.5M501.3 307.5H544M475 342.7H544M473.8 377.8H544M453.8 420.7H544M264.8 365.5V435.3M323.6 401.5V435.3M377 442.8H406.5"/>
</g>

</svg>
</body></html>
